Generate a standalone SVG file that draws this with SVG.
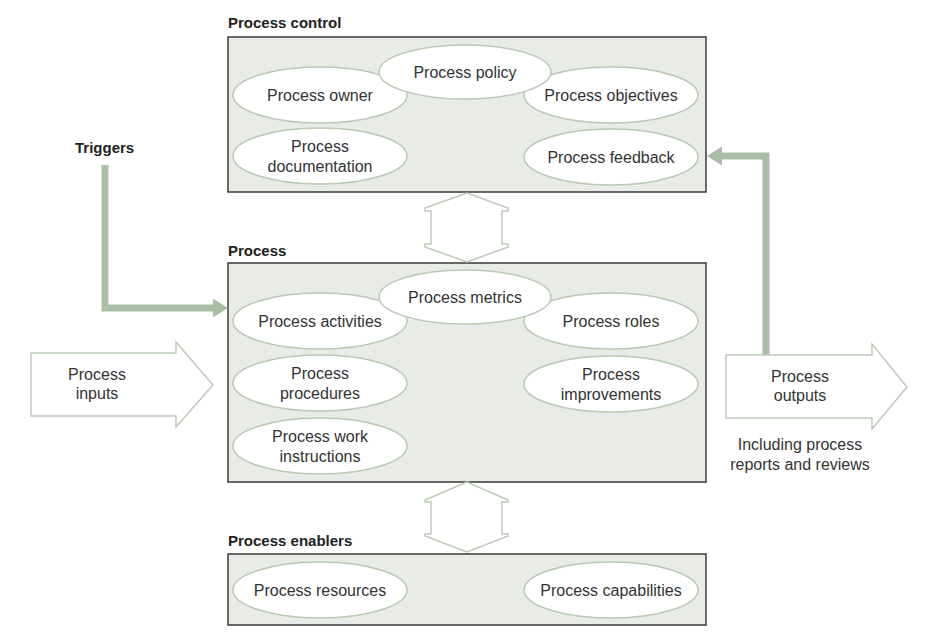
<svg xmlns="http://www.w3.org/2000/svg" width="940" height="636" viewBox="0 0 940 636">
<defs>
<style>
.box{fill:#e8ebe6;stroke:#3a3a3a;stroke-width:1.5}
.ell{fill:#ffffff;stroke:#b9c9b4;stroke-width:1.5}
.t{font-family:"Liberation Sans",Arial,sans-serif;font-size:16px;fill:#333333;text-anchor:middle}
.h{font-family:"Liberation Sans",Arial,sans-serif;font-size:15px;font-weight:bold;fill:#222222}
.out{fill:#ffffff;stroke:#bccbb8;stroke-width:1.5}
.g{fill:none;stroke:#a9bea4;stroke-width:7}
.gh{fill:#a9bea4}
</style>
</defs>
<rect width="940" height="636" fill="#ffffff"/>

<g id="process-control">
<text class="h" x="228" y="28">Process control</text>
<rect class="box" x="228" y="37" width="478" height="155"/>
<g id="process-owner"><ellipse class="ell" cx="320" cy="95" rx="87" ry="28"/><text class="t" x="320" y="100.5">Process owner</text></g>
<g id="process-objectives"><ellipse class="ell" cx="611" cy="95" rx="87" ry="28"/><text class="t" x="611" y="100.5">Process objectives</text></g>
<g id="process-policy"><ellipse class="ell" cx="465" cy="72" rx="86" ry="27"/><text class="t" x="465" y="77.5">Process policy</text></g>
<g id="process-documentation"><ellipse class="ell" cx="320" cy="156" rx="87" ry="28"/><text class="t" x="320" y="151.5">Process</text><text class="t" x="320" y="171.5">documentation</text></g>
<g id="process-feedback"><ellipse class="ell" cx="611" cy="157" rx="87" ry="28"/><text class="t" x="611" y="162.5">Process feedback</text></g>
</g>

<g id="process">
<text class="h" x="228" y="256">Process</text>
<rect class="box" x="228" y="263" width="478" height="219"/>
<g id="process-activities"><ellipse class="ell" cx="320" cy="321" rx="87" ry="28"/><text class="t" x="320" y="326.5">Process activities</text></g>
<g id="process-roles"><ellipse class="ell" cx="611" cy="321" rx="87" ry="28"/><text class="t" x="611" y="326.5">Process roles</text></g>
<g id="process-metrics"><ellipse class="ell" cx="465" cy="297" rx="86" ry="27"/><text class="t" x="465" y="302.5">Process metrics</text></g>
<g id="process-procedures"><ellipse class="ell" cx="320" cy="383" rx="87" ry="28"/><text class="t" x="320" y="378.5">Process</text><text class="t" x="320" y="398.5">procedures</text></g>
<g id="process-improvements"><ellipse class="ell" cx="611" cy="384" rx="87" ry="28"/><text class="t" x="611" y="379.5">Process</text><text class="t" x="611" y="399.5">improvements</text></g>
<g id="process-work-instructions"><ellipse class="ell" cx="320" cy="446" rx="87" ry="28"/><text class="t" x="320" y="441.5">Process work</text><text class="t" x="320" y="461.5">instructions</text></g>
</g>

<g id="process-enablers">
<text class="h" x="228" y="546">Process enablers</text>
<rect class="box" x="228" y="554" width="478" height="71"/>
<g id="process-resources"><ellipse class="ell" cx="320" cy="590" rx="87" ry="28"/><text class="t" x="320" y="595.5">Process resources</text></g>
<g id="process-capabilities"><ellipse class="ell" cx="611" cy="590" rx="87" ry="28"/><text class="t" x="611" y="595.5">Process capabilities</text></g>
</g>

<g id="triggers"><text class="h" x="75" y="153">Triggers</text></g>

<g id="connectors">
<polygon class="out" points="467,193 425,208 425,211 431,211 431,244 425,244 425,247 467,262 508,247 508,244 502,244 502,211 508,211 508,208"/>
<polygon class="out" points="467,482 425,500 425,502 431,502 431,534 425,534 425,536 467,552 508,536 508,534 502,534 502,502 508,502 508,500"/>
<path class="g" d="M105,165 V308 H214"/>
<polygon class="gh" points="213,298.5 228,308 213,317.5"/>
<path class="g" d="M766,355 V156 H721"/>
<polygon class="gh" points="722,146.5 707,156 722,165.5"/>
</g>

<g id="process-inputs">
<polygon class="out" points="31,353 176,353 176,342 213,385 176,427 176,416 31,416"/>
<text class="t" x="97" y="380">Process</text><text class="t" x="97" y="399">inputs</text>
</g>

<g id="process-outputs">
<polygon class="out" points="726,355 872,355 872,344 907,387 872,429 872,418 726,418"/>
<text class="t" x="800" y="382">Process</text><text class="t" x="800" y="401">outputs</text>
<text class="t" x="800" y="450">Including process</text><text class="t" x="800" y="470">reports and reviews</text>
</g>
</svg>
